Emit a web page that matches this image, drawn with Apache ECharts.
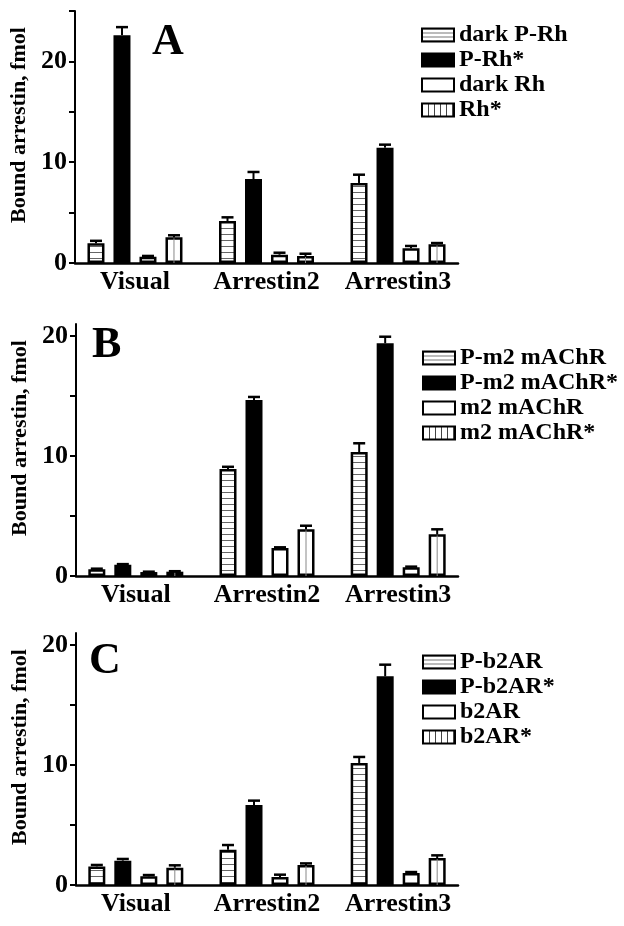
<!DOCTYPE html>
<html>
<head>
<meta charset="utf-8">
<script src="https://cdn.jsdelivr.net/npm/echarts@6/dist/echarts.min.js"></script>
<style>html,body{margin:0;padding:0;background:#fff;}#chart{width:624px;height:926px;}</style>
</head>
<body>
<div id="chart"></div>
<script>
// ---- data ----
const categories = ['Visual', 'Arrestin2', 'Arrestin3'];

const namesA = ['dark P-Rh', 'P-Rh*', 'dark Rh', 'Rh*'];
const valuesA = [
  [1.95, 4.17, 7.94],
  [22.6, 8.33, 11.44],
  [0.62, 0.82, 1.46],
  [2.55, 0.69, 1.85]
];
const errorsA = [
  [0.25, 0.36, 0.82],
  [0.8, 0.7, 0.3],
  [0.08, 0.2, 0.23],
  [0.2, 0.23, 0.13]
];

const namesB = ['P-m2 mAChR', 'P-m2 mAChR*', 'm2 mAChR', 'm2 mAChR*'];
const valuesB = [
  [0.56, 8.92, 10.33],
  [0.94, 14.67, 19.39],
  [0.33, 2.33, 0.72],
  [0.36, 3.89, 3.47]
];
const errorsB = [
  [0.05, 0.18, 0.73],
  [0.05, 0.25, 0.55],
  [0.03, 0.06, 0.06],
  [0.04, 0.3, 0.42]
];

const namesC = ['P-b2AR', 'P-b2AR*', 'b2AR', 'b2AR*'];
const valuesC = [
  [1.55, 2.94, 10.17],
  [2.03, 6.67, 17.39],
  [0.72, 0.67, 1.0],
  [1.44, 1.67, 2.25]
];
const errorsC = [
  [0.12, 0.39, 0.5],
  [0.14, 0.36, 0.97],
  [0.11, 0.19, 0.08],
  [0.2, 0.13, 0.22]
];

const yTicksA = [0, 5, 10, 15, 20, 25];
const yTicksBC = [0, 5, 10, 15, 20];
const yLabels = [0, 10, 20];
const panelLetters = ['A', 'B', 'C'];

// ---- styling ----
const FONT = '"Liberation Serif", "Times New Roman", serif';
const BAR_W = 17;
const GAP_PX = 9;
const PITCH = BAR_W + GAP_PX;

function makePattern(w, h, draw) {
  const c = document.createElement('canvas');
  c.width = w; c.height = h;
  const ctx = c.getContext('2d');
  ctx.fillStyle = '#fff';
  ctx.fillRect(0, 0, w, h);
  draw(ctx);
  return { image: c, repeat: 'repeat' };
}
const hStripe = makePattern(4, 6, ctx => { ctx.fillStyle = '#666'; ctx.fillRect(0, 0, 4, 1); });
const hStripeLegend = makePattern(4, 4, ctx => { ctx.fillStyle = '#777'; ctx.fillRect(0, 0, 4, 1); });
const vStripeLegend = makePattern(6, 4, ctx => { ctx.fillStyle = '#444'; ctx.fillRect(0, 0, 1, 4); });

const fills = [hStripe, '#000', '#fff', '#fff'];
const legendFills = [hStripeLegend, '#000', '#fff', vStripeLegend];

const panels = [
  { names: namesA, values: valuesA, errors: errorsA, ticks: yTicksA, max: 25,
    grid: { left: 75, top: 11, width: 383, height: 252 }, legendTop: 18, legendLeft: 416,
    title: { left: 152, top: 21 } },
  { names: namesB, values: valuesB, errors: errorsB, ticks: yTicksBC, max: 21,
    grid: { left: 76, top: 324, width: 382, height: 252 }, legendTop: 341, legendLeft: 417,
    title: { left: 92, top: 324 } },
  { names: namesC, values: valuesC, errors: errorsC, ticks: yTicksBC, max: 21,
    grid: { left: 76, top: 633, width: 382, height: 252 }, legendTop: 645, legendLeft: 417,
    title: { left: 89, top: 640 } }
];

const grids = [], xAxes = [], yAxes = [], series = [], legends = [], titles = [];

panels.forEach((p, pi) => {
  grids.push(Object.assign({ containLabel: false }, p.grid));
  xAxes.push({
    type: 'value', gridIndex: pi, min: -0.456, max: 2.456,
    axisLine: { show: true, onZero: false, lineStyle: { color: '#000', width: 2.5 } },
    axisTick: { show: false },
    splitLine: { show: false },
    axisLabel: {
      customValues: [0, 1, 2],
      formatter: v => categories[Math.round(v)],
      color: '#000', fontFamily: FONT, fontWeight: 'bold', fontSize: 26, margin: 6
    }
  });
  yAxes.push({
    type: 'value', gridIndex: pi, min: 0, max: p.max,
    name: 'Bound arrestin, fmol', nameLocation: 'middle', nameGap: 44,
    nameTextStyle: { color: '#000', fontFamily: FONT, fontWeight: 'bold', fontSize: 22, padding: [0, 0, 0, 24] },
    axisLine: { show: true, onZero: false, lineStyle: { color: '#000', width: 2 } },
    axisTick: { show: true, inside: false, length: 6, customValues: p.ticks, lineStyle: { color: '#000', width: 2 } },
    splitLine: { show: false },
    axisLabel: {
      customValues: yLabels, color: '#000', fontFamily: FONT, fontWeight: 'bold', fontSize: 26, margin: 8
    }
  });
  p.names.forEach((name, si) => {
    series.push({
      type: 'bar', name: name, xAxisIndex: pi, yAxisIndex: pi,
      barWidth: BAR_W, barGap: (GAP_PX / BAR_W * 100) + '%',
      data: p.values[si].map((v, ci) => [ci, v]),
      itemStyle: { color: fills[si], borderColor: '#000', borderWidth: 2.5 },
      emphasis: { disabled: true }, silent: true
    });
  });
  p.names.forEach((name, si) => {
    series.push({
      type: 'custom', name: 'err_' + pi + '_' + si, xAxisIndex: pi, yAxisIndex: pi,
      data: p.values[si].map((v, ci) => [ci, v, p.errors[si][ci]]),
      silent: true, z: 5,
      renderItem: (params, api) => {
        const x = api.value(0), y = api.value(1), e = api.value(2);
        const base = api.coord([x, 0]);
        const top = api.coord([x, y]);
        const up = api.coord([x, y + e]);
        const cx = top[0] + (si - 1.5) * PITCH;
        const children = [
          { type: 'line', shape: { x1: cx, y1: top[1], x2: cx, y2: up[1] }, style: { stroke: '#000', lineWidth: 2 } },
          { type: 'line', shape: { x1: cx - 6, y1: up[1], x2: cx + 6, y2: up[1] }, style: { stroke: '#000', lineWidth: 2.5 } }
        ];
        if (si === 3) {
          children.unshift({ type: 'line', shape: { x1: cx, y1: base[1], x2: cx, y2: top[1] + 1 }, style: { stroke: '#888', lineWidth: 1 } });
        }
        return { type: 'group', children: children };
      }
    });
  });
  legends.push({
    orient: 'vertical', left: p.legendLeft, top: p.legendTop,
    itemWidth: 32, itemHeight: 13, itemGap: 1, selectedMode: false,
    icon: 'rect',
    data: p.names.map((n, si) => ({ name: n, itemStyle: { color: legendFills[si], borderColor: '#000', borderWidth: 2 } })),
    textStyle: { color: '#000', fontFamily: FONT, fontWeight: 'bold', fontSize: 24, lineHeight: 24 }
  });
  titles.push({
    text: panelLetters[pi], left: p.title.left, top: p.title.top, padding: 0,
    textStyle: { color: '#000', fontFamily: FONT, fontWeight: 'bold', fontSize: 44 }
  });
});

const chart = echarts.init(document.getElementById('chart'), null, { renderer: 'canvas' });
chart.setOption({
  backgroundColor: '#fff',
  animation: false,
  title: titles,
  legend: legends,
  grid: grids,
  xAxis: xAxes,
  yAxis: yAxes,
  series: series
});
</script>
</body>
</html>
